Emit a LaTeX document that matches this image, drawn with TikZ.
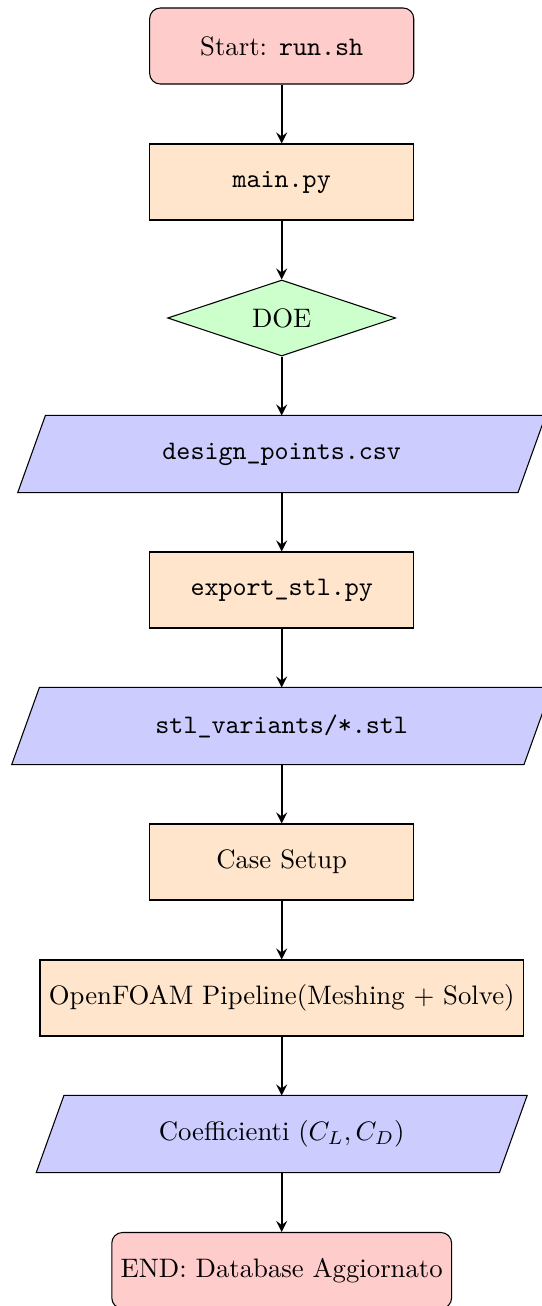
\documentclass[tikz,border=0pt]{standalone}
\usetikzlibrary{shapes.geometric,backgrounds}
\newcommand{\ioslant}{0.182cm}
\newcommand{\ioshape}[1]{%
  \filldraw[fill=blue!20,draw=black]
    ([xshift=-\ioslant]#1.south west) -- ([xshift=\ioslant]#1.north west) --
    ([xshift=\ioslant]#1.north east) -- ([xshift=-\ioslant]#1.south east) -- cycle;}
\begin{document}
\begin{tikzpicture}[x=0.013158cm,y=-0.013158cm,
  startstop/.style={rectangle, rounded corners, draw=black, fill=red!20, minimum height=1cm, text centered},
  process/.style={rectangle, draw=black, fill=orange!20, minimum width=3.474cm, minimum height=1cm, text centered},
  decision/.style={diamond, draw=black, fill=green!20, aspect=3, inner sep=0pt, minimum width=3cm, minimum height=1cm},
  iobox/.style={rectangle, draw=none, minimum height=1cm, text centered},
  arrow/.style={thick,->,>=stealth}]
\useasboundingbox (0,0) rectangle (541,1306);
\node[startstop, minimum width=3.474cm] (start) at (281.7,46) {Start: \texttt{run.sh}};
\node[process] (main) at (281.7,182) {\texttt{main.py}};
\node[decision] (doe) at (281.7,318) {DOE};
\node[iobox, minimum width=6.566cm] (dp) at (281.7,454) {\texttt{design\_points.csv}};
\node[process] (exp) at (281.7,590) {\texttt{export\_stl.py}};
\node[iobox, minimum width=6.724cm] (stl) at (281.7,726) {\texttt{stl\_variants/*.stl}};
\node[process] (case) at (281.7,862) {Case Setup};
\node[process, minimum width=6.355cm] (foam) at (281.7,998) {OpenFOAM Pipeline(Meshing + Solve)};
\node[iobox, minimum width=6.079cm] (coef) at (281.7,1134) {Coefficienti $(C_L, C_D)$};
\node[startstop, minimum width=4.461cm] (end) at (281.7,1270.5) {END: Database Aggiornato};
\begin{scope}[on background layer]
  \ioshape{dp}
  \ioshape{stl}
  \ioshape{coef}
\end{scope}
\draw[arrow] (start) -- (main);
\draw[arrow] (main) -- (doe);
\draw[arrow] (doe) -- (dp);
\draw[arrow] (dp) -- (exp);
\draw[arrow] (exp) -- (stl);
\draw[arrow] (stl) -- (case);
\draw[arrow] (case) -- (foam);
\draw[arrow] (foam) -- (coef);
\draw[arrow] (coef) -- (end);
\end{tikzpicture}
\end{document}
